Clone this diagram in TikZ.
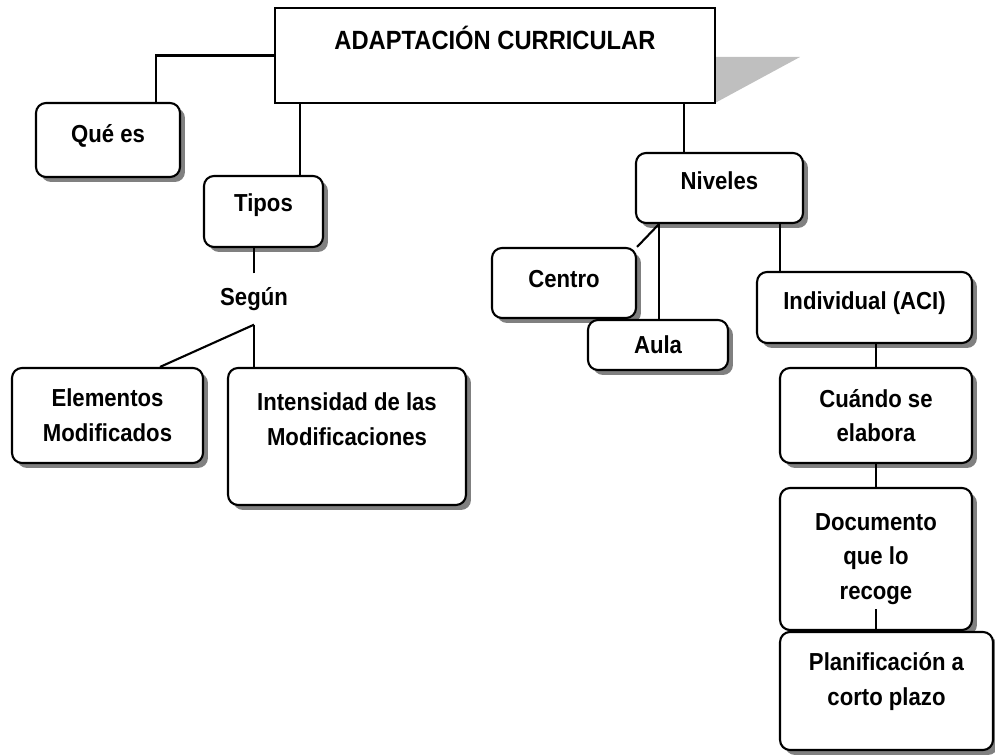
\documentclass[tikz,border=0pt]{standalone}
\usepackage{fontspec}
\setmainfont{Liberation Sans}[FakeStretch=0.9]
\usetikzlibrary{calc,positioning,shadows}

\begin{document}
\begin{tikzpicture}[x=0.02cm,y=-0.02cm,line width=1.2pt,
  rbox/.style={draw,fill=white,rounded corners=0.2cm,align=center,
    font=\bfseries\fontsize{14}{19.8}\selectfont,
    drop shadow={shadow xshift=0.1cm,shadow yshift=-0.1cm,fill=black!50,opacity=1}},
  titlebox/.style={draw,fill=white,font=\bfseries\fontsize{15}{17}\selectfont},
  plain/.style={font=\bfseries\fontsize{14}{19.8}\selectfont}]
\useasboundingbox (0,0) rectangle (995,756);
% title
\fill[black!25](495+220,57)--(800,57)--(495+220,103)--cycle;
\node[titlebox,minimum width=8.8cm,minimum height=1.9cm,text depth=0.7cm](title) at (495,55.5){ADAPTACIÓN CURRICULAR};
% left branch
\node[rbox,minimum width=2.88cm,minimum height=1.48cm,text depth=0.26cm](quees) at (108,140){Qué es};
\node[rbox,minimum width=2.38cm,minimum height=1.42cm,text depth=0.34cm](tipos) at (263.5,211.5){Tipos};
\node[plain,inner sep=0.26cm](segun) at (254,299){Según};
\node[rbox,minimum width=3.82cm,minimum height=1.9cm](elem) at (107.5,415.5){Elementos\\Modificados};
\node[rbox,minimum width=4.76cm,minimum height=2.74cm,text depth=0.7cm](intens) at (347,436.5){Intensidad de las\\Modificaciones};
% right branch
\node[rbox,minimum width=3.34cm,minimum height=1.4cm,text depth=0.28cm](niveles) at (719.5,188){Niveles};
\node[rbox,minimum width=2.88cm,minimum height=1.4cm,text depth=0.18cm](centro) at (564,283){Centro};
\node[rbox,minimum width=2.8cm,minimum height=1cm](aula) at (658,345){Aula};
\node[rbox,minimum width=4.3cm,minimum height=1.42cm,text depth=0.26cm](indiv) at (864.5,307.5){Individual (ACI)};
\node[rbox,minimum width=3.84cm,minimum height=1.9cm](cuando) at (876,415.5){Cuándo se\\elabora};
\node[rbox,minimum width=3.84cm,minimum height=2.84cm](docu) at (876,559){Documento\\que lo\\recoge};
\node[rbox,minimum width=4.26cm,minimum height=2.36cm,text depth=0.47cm](plani) at (886.5,691){Planificación a\\corto plazo};
% connectors
\draw(title.west)-|($(quees.north)+(48,0)$);
\draw($(tipos.north)+(36.5,0)$)coordinate(t1)--(t1|-title.south);
\draw(segun.north)--(segun.north|-tipos.south);
\draw(segun.south)--($(elem.north)+(52.5,0)$);
\draw(segun.south)--(segun.south|-intens.north);
\draw($(niveles.north)+(-35.5,0)$)coordinate(n1)--(n1|-title.south);
\draw($(niveles.south)+(-60.5,0)$)coordinate(n2)--(centro.north east);
\draw(n2)--(n2|-aula.north);
\draw($(niveles.south)+(60.5,0)$)coordinate(n3)--(n3|-indiv.north);
\draw(cuando.north)--(cuando.north|-indiv.south);
\draw(cuando.south)--(docu.north);
\draw($(docu.south)+(0,-22)$)--(docu.south|-plani.north);
\end{tikzpicture}
\end{document}
